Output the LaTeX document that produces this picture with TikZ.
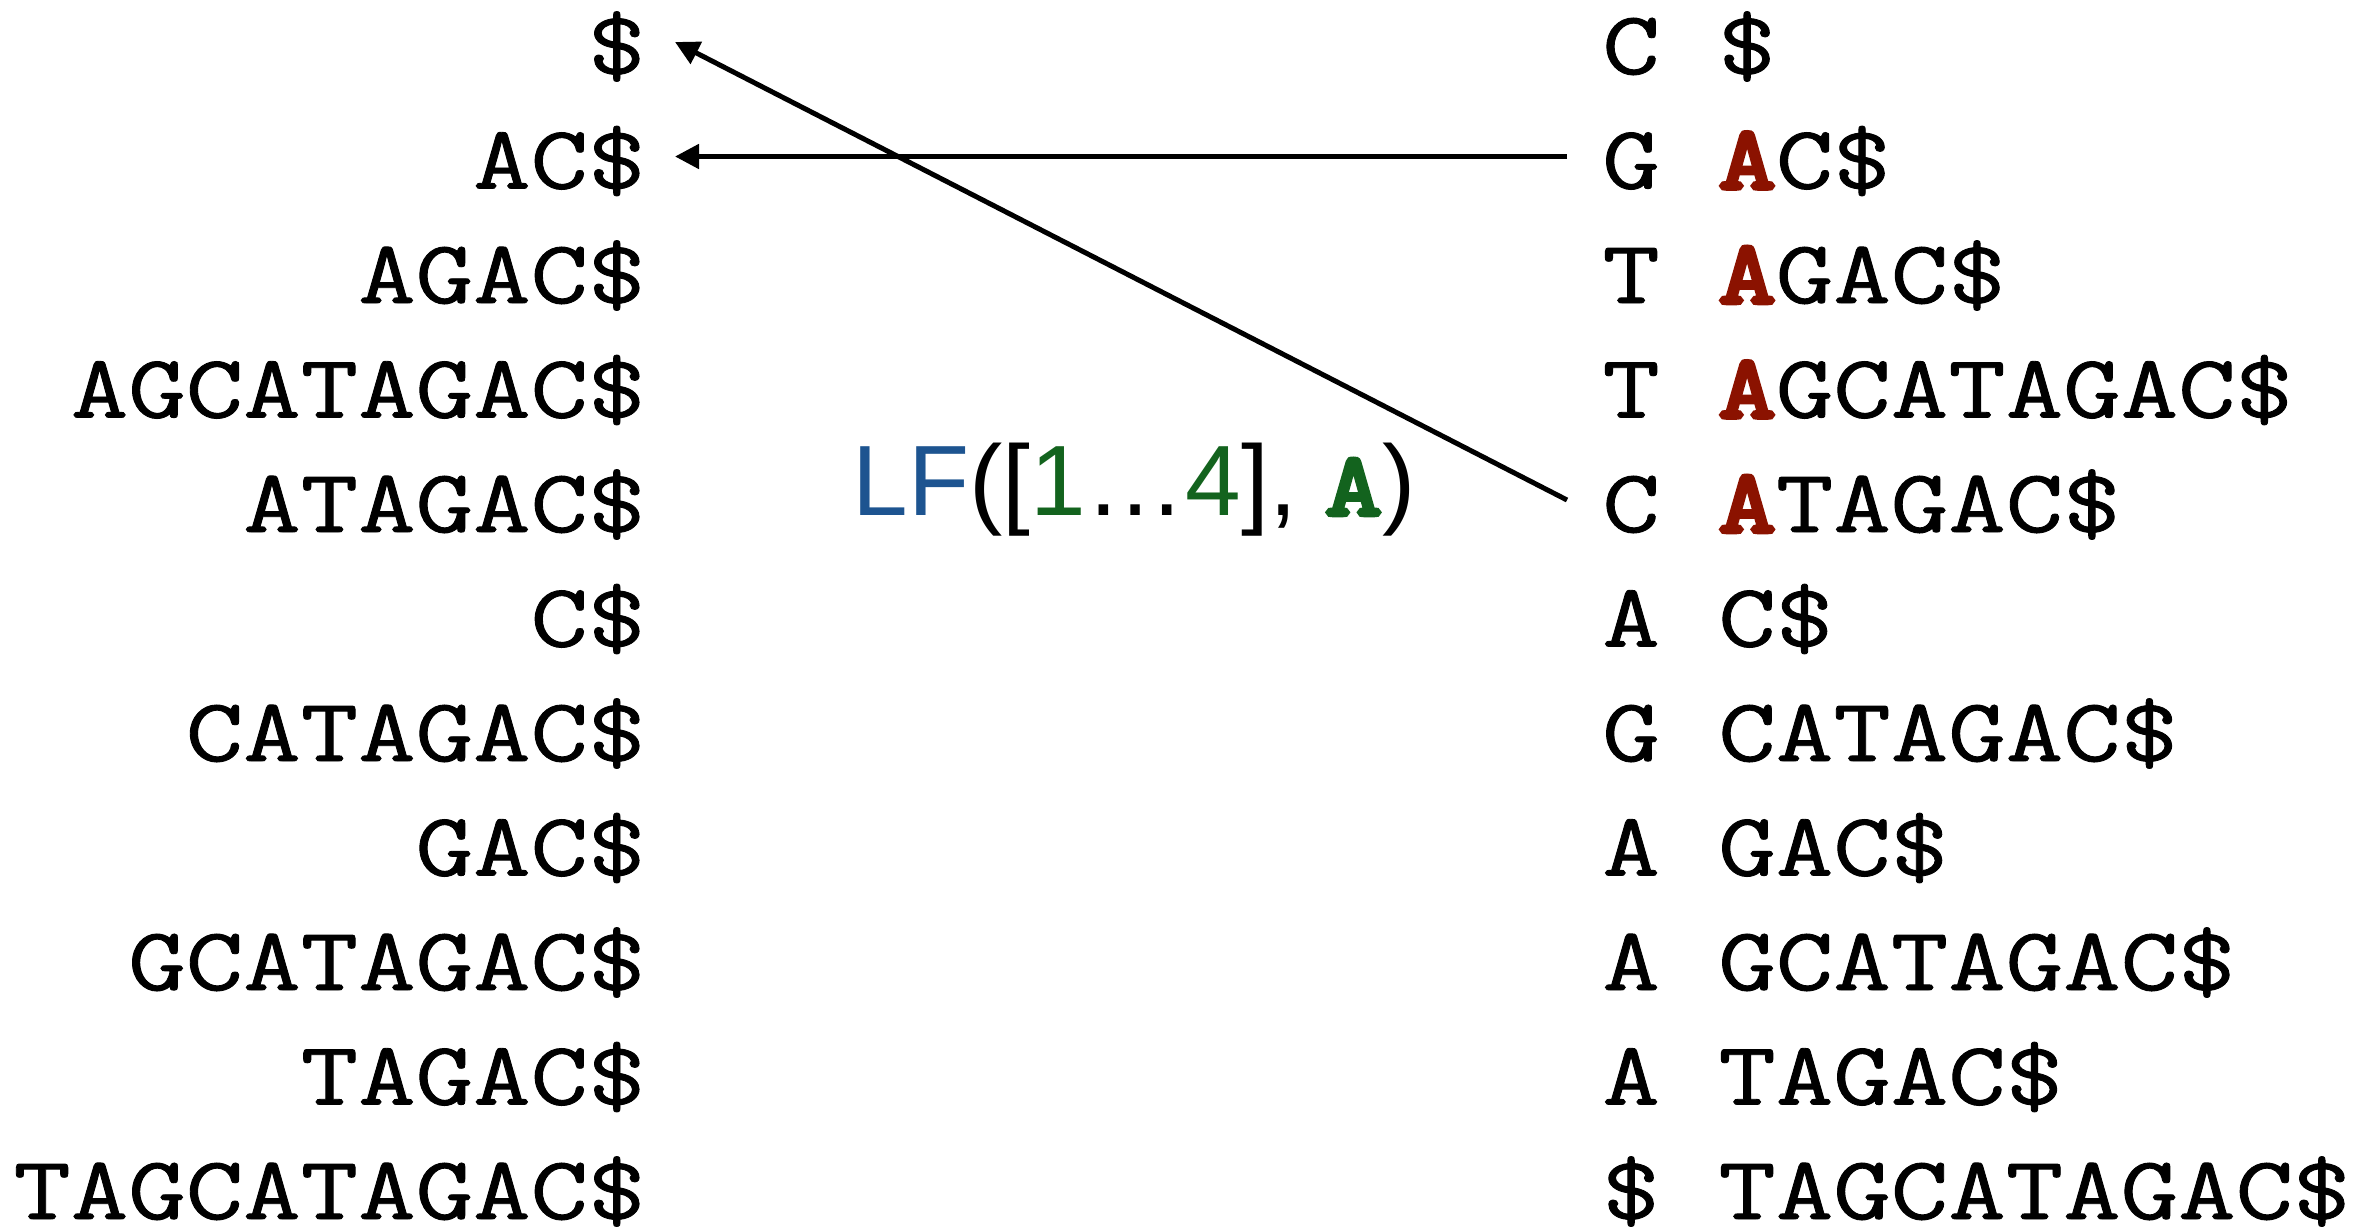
\documentclass[tikz,border=0pt]{standalone}
\usepackage{fontspec}
\setmainfont{Liberation Sans}
\newfontfamily\seqfont{Latin Modern Mono}[FakeStretch=1.24, FakeBold=1]
\newfontfamily\seqbold{Latin Modern Mono}[FakeStretch=1.24, FakeBold=5]
\usetikzlibrary{arrows.meta}

\definecolor{lfblue}{HTML}{1D5490}
\definecolor{lfgreen}{HTML}{13631E}
\definecolor{sufred}{HTML}{8B1200}

\newcommand\seqsize{\fontsize{45pt}{45pt}\selectfont}
\newcommand\redA{{\seqbold\seqsize\color{sufred}A}}

\begin{document}
\begin{tikzpicture}[x=0.5pt,y=-0.5pt,
  seq/.style={font=\seqfont\seqsize,
              inner sep=0pt, text height=32pt, text depth=0pt},
  fcol/.style={seq, anchor=base east},
  lcol/.style={seq, anchor=base west},
  link/.style={line width=2.5pt, -{Triangle[length=12pt,width=12pt]}}]
\useasboundingbox (0,0) rectangle (2374,1231);

% sorted suffixes (first column)
\foreach \s [count=\i] in {\$, AC\$, AGAC\$, AGCATAGAC\$, ATAGAC\$, C\$,
    CATAGAC\$, GAC\$, GCATAGAC\$, TAGAC\$, TAGCATAGAC\$}
  \node[fcol] (f\i) at (646, {74+(\i-1)*114.5}) {\s};

% BWT characters (last column)
\foreach \c [count=\i] in {C, G, T, T, C, A, G, A, A, A, \$}
  \node[lcol] (b\i) at (1602, {74+(\i-1)*114.5}) {\c};

% suffixes beside the BWT characters
\foreach \s [count=\i] in {\$, \redA C\$, \redA GAC\$, \redA GCATAGAC\$,
    \redA TAGAC\$, C\$, CATAGAC\$, GAC\$, GCATAGAC\$, TAGAC\$, TAGCATAGAC\$}
  \node[lcol] (s\i) at (1718, {74+(\i-1)*114.5}) {\s};

% LF query label
\node[anchor=base west, inner sep=0pt, font=\fontsize{50pt}{50pt}\selectfont]
  (lf) at (852,515)
  {\textcolor{lfblue}{LF}([\textcolor{lfgreen}{1}…\textcolor{lfgreen}{4}],
   {\seqbold\seqsize\color{lfgreen}A})};

% LF mappings
\draw[link] ([xshift=-17.5pt]b5.west) -- ([xshift=14.5pt]f1.east);
\draw[link] ([xshift=-17.5pt]b2.west) -- ([xshift=14.5pt]f2.east);
\end{tikzpicture}
\end{document}
